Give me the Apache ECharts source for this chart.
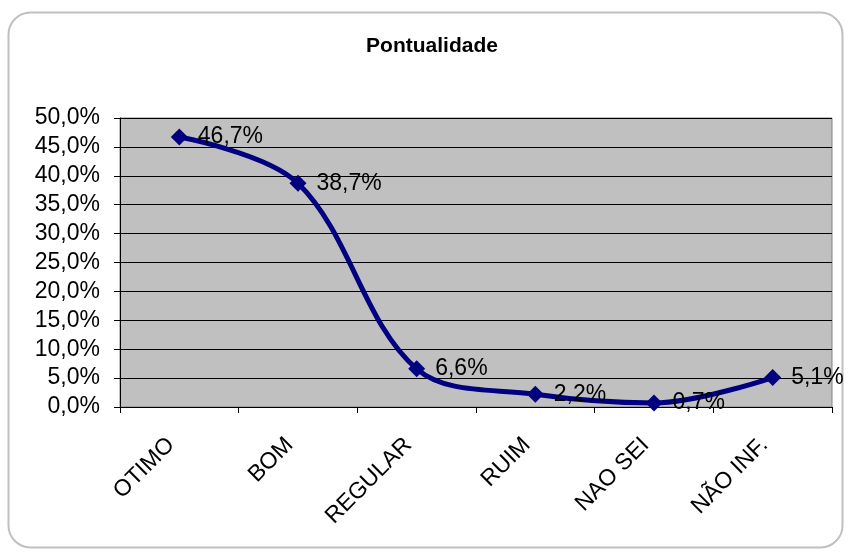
<!DOCTYPE html>
<html><head><meta charset="utf-8">
<script src="https://cdn.jsdelivr.net/npm/echarts@6/dist/echarts.min.js"></script>
<style>html,body{margin:0;padding:0;background:#fff}#c{width:850px;height:554px}</style>
</head><body><div id="c"></div>
<script>
const categories = ['OTIMO','BOM','REGULAR','RUIM','NAO SEI','NÃO INF.'];
const values = [46.7, 38.7, 6.6, 2.2, 0.7, 5.1];
const yTicks = [0,5,10,15,20,25,30,35,40,45,50];
const chart = echarts.init(document.getElementById('c'));
const fmt = v => v.toFixed(1).replace('.', ',') + '%';
const FF = 'Liberation Sans, Arial';
chart.setOption({
  animation: false,
  backgroundColor: '#fff',
  graphic: [{type:'rect', shape:{x:8.5,y:12.5,width:834,height:535,r:22}, style:{fill:'none', stroke:'#c0c0c0', lineWidth:2}, z:-1}],
  title: {text:'Pontualidade', left:427, top:31, textAlign:'center',
    textStyle:{fontFamily:FF, fontSize:21, fontWeight:'bold', color:'#000'}},
  grid: {left:120, right:18, top:118, bottom:147, show:true, backgroundColor:'#c0c0c0', borderColor:'#808080', borderWidth:1},
  xAxis: {type:'category', data:categories, boundaryGap:true,
    axisLine:{lineStyle:{color:'#000', width:1}},
    axisTick:{show:true, length:6, lineStyle:{color:'#000'}},
    axisLabel:{rotate:45, margin:26, padding:[0,12,0,0], color:'#000', fontFamily:FF, fontSize:23}},
  yAxis: {type:'value', min:0, max:50, interval:5,
    axisLine:{show:true, lineStyle:{color:'#000'}},
    axisTick:{show:true, length:6, lineStyle:{color:'#000'}},
    splitLine:{show:true, lineStyle:{color:'#000', width:1}},
    axisLabel:{formatter: v => fmt(v), margin:20, color:'#000', fontFamily:FF, fontSize:23}},
  series: [{type:'line', data:values, smooth:0.35,
    lineStyle:{color:'#000080', width:5},
    itemStyle:{color:'#000080'},
    symbol:'diamond', symbolSize:17,
    label:{show:true, position:'right', distance:10, formatter: p => fmt(p.value),
      color:'#000', fontFamily:FF, fontSize:23}}]
});
</script></body></html>
